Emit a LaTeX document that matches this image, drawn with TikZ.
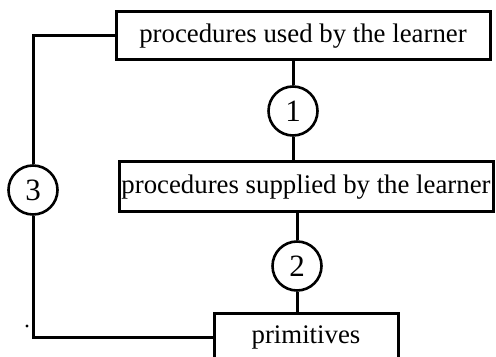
\documentclass[tikz,border=0pt]{standalone}
\usepackage{fontspec}
\setmainfont{Liberation Serif}
\usepackage{tikz}

\begin{document}
\begin{tikzpicture}[x=0.5pt,y=-0.5pt,
    procbox/.style={draw,line width=1.5pt,minimum height=24pt,inner sep=0pt,
      font=\fontsize{13.4}{15}\selectfont},
    stage/.style={draw,circle,line width=1.3pt,minimum size=24.5pt,inner sep=0pt,
      font=\fontsize{15.5}{17}\selectfont},
    link/.style={line width=1.5pt}]
    \useasboundingbox (0,0) rectangle (496,357);
    \node[procbox,minimum width=187pt] (used) at (303,36) {procedures used by the learner};
    \node[procbox,minimum width=187pt,minimum height=25pt] (supplied) at (306,187) {procedures supplied by the learner};
    \node[procbox,minimum width=92pt] (prim) at (306,337) {primitives};
    \node[stage] (one) at (293,111) {1};
    \node[stage] (two) at (297,266) {2};
    \node[stage] (three) at (33,190) {3};
    \draw[link] (one.north) -- (one.north |- used.south);
    \draw[link] (one.south) -- (one.south |- supplied.north);
    \draw[link] (two.north) -- (two.north |- supplied.south);
    \draw[link] (two.south) -- (two.south |- prim.north);
    \draw[link] (used.west) -| (three.north);
    \draw[link] (three.south) |- (prim.west);
    \fill (27,326) circle (0.8pt);
\end{tikzpicture}
\end{document}
